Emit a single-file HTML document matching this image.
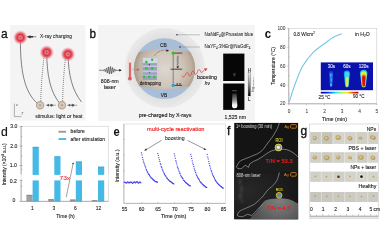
<!DOCTYPE html>
<html><head><meta charset="utf-8">
<style>
html,body{margin:0;padding:0;background:#fff;width:380px;height:245px;overflow:hidden}
svg{display:block;font-family:"Liberation Sans",sans-serif;filter:blur(0.45px)}
text.t{transform-box:fill-box;transform-origin:50% 81%;transform:scaleY(1.15)}
</style></head><body>
<svg width="380" height="245" viewBox="0 0 380 245">
<defs>
<radialGradient id="glow" cx="50%" cy="50%" r="50%">
<stop offset="0" stop-color="#eab4b6"/>
<stop offset="0.2" stop-color="#e67880"/>
<stop offset="0.42" stop-color="#e0303e"/>
<stop offset="0.62" stop-color="#e65060" stop-opacity="0.8"/>
<stop offset="0.84" stop-color="#f08c96" stop-opacity="0.33"/>
<stop offset="1" stop-color="#f8c0c8" stop-opacity="0"/>
</radialGradient>
<radialGradient id="core" cx="50%" cy="50%" r="50%">
<stop offset="0" stop-color="#d8c8b8"/>
<stop offset="1" stop-color="#b8a590"/>
</radialGradient>
<radialGradient id="brown" gradientUnits="userSpaceOnUse" cx="165" cy="69" r="31">
<stop offset="0" stop-color="#ddd7d0"/>
<stop offset="0.55" stop-color="#d0c6bb"/>
<stop offset="0.85" stop-color="#bfb0a0"/>
<stop offset="1" stop-color="#aa9886"/>
</radialGradient>
</defs>

<!-- ============ Panel a ============ -->
<text transform="translate(1.0,38.3) scale(0.92,1.04)" font-size="13" fill="#111" stroke="#111" stroke-width="0.25">a</text>
<rect x="10" y="25" width="75.5" height="95.5" fill="#f4f4f4"/>
<g fill="none" stroke="#5a5a5a" stroke-width="0.75">
<path d="M20.4,37.5 C20.2,70 24,92 37.7,103.6"/>
<path d="M46.7,52.4 C47,75 50,92 60,103.6"/>
<path d="M68,54 C68.5,75 72,90 81.5,102"/>
</g>
<g fill="none" stroke="#555" stroke-width="0.8" stroke-dasharray="0.9,1.1">
<path d="M44.3,54.3 C42.5,70 41,85 40.8,101.5"/>
<path d="M65.7,56.4 C64,70 63,85 62.6,101.5"/>
</g>
<circle cx="20.4" cy="37.5" r="7.6" fill="url(#glow)"/>
<circle cx="20.4" cy="37.5" r="0.8" fill="#7a5050"/>
<circle cx="46.7" cy="52.4" r="7.6" fill="url(#glow)"/>
<circle cx="46.7" cy="52.4" r="0.8" fill="#7a5050"/>
<circle cx="67.9" cy="54.3" r="7.6" fill="url(#glow)"/>
<circle cx="67.9" cy="54.3" r="0.8" fill="#7a5050"/>
<path d="M26.8,36.8 L36.3,36.8" stroke="#333" stroke-width="0.6"/>
<path d="M27,36.8 L30.5,35.2 L30.5,38.4 Z M30.5,36 H33 V37.6 H30.5 Z" fill="#333"/>
<text class="t" x="40" y="38.4" font-size="4.9" fill="#1a1a1a" stroke="#1a1a1a" stroke-width="0.06" textLength="32" lengthAdjust="spacingAndGlyphs">X-ray charging</text>
<circle cx="40.1" cy="105.2" r="3.6" fill="#d8ccc0" stroke="#b8a690" stroke-width="1.2"/>
<circle cx="40.1" cy="105.2" r="1.3" fill="#b8a898"/>
<circle cx="62" cy="105.2" r="3.6" fill="#d8ccc0" stroke="#b8a690" stroke-width="1.2"/>
<circle cx="62" cy="105.2" r="1.3" fill="#b8a898"/>
<path d="M46,105.2 H56 M67.3,105.2 H77.3" stroke="#777" stroke-width="0.6"/>
<path d="M46.3,105.2 L49,103.8 L49,106.6 Z M49.5,105.2 L51.5,103.7 L53.5,105.2 L51.5,106.7 Z M67.6,105.2 L70.3,103.8 L70.3,106.6 Z M70.8,105.2 L72.8,103.7 L74.8,105.2 L72.8,106.7 Z" fill="#555"/>
<text class="t" x="35.2" y="117.7" font-size="4.9" fill="#1a1a1a" stroke="#1a1a1a" stroke-width="0.08" textLength="47.3" lengthAdjust="spacingAndGlyphs">stimulus: light or heat</text>
<path d="M14.4,103.6 V116.6 H21.5" fill="none" stroke="#777" stroke-width="0.55"/>
<text class="t" x="16" y="106" font-size="3.6" font-style="italic" fill="#444">z</text>
<text class="t" x="21" y="115" font-size="3.6" font-style="italic" fill="#444">T</text>

<!-- ============ Panel b ============ -->
<text transform="translate(89.4,38.1) scale(0.9,1.02)" font-size="13" fill="#111" stroke="#111" stroke-width="0.35">b</text>
<rect x="98" y="25" width="157" height="96" fill="#f4f4f4"/>
<circle cx="165" cy="68" r="40" fill="url(#ring)"/>
<defs><radialGradient id="ring" gradientUnits="userSpaceOnUse" cx="165" cy="68" r="40"><stop offset="0.7" stop-color="#dedede"/><stop offset="1" stop-color="#eaeaea"/></radialGradient></defs>
<clipPath id="inner"><ellipse cx="164.5" cy="68.6" rx="30.6" ry="30.4"/></clipPath>
<ellipse cx="164.5" cy="68.6" rx="30.6" ry="30.4" fill="#a8bdd8"/>
<g clip-path="url(#inner)">
<ellipse cx="165" cy="69.2" rx="48" ry="20.2" fill="url(#brown)"/>
</g>
<text class="t" x="163.3" y="46.8" font-size="4.8" fill="#222" stroke="#222" stroke-width="0.1" text-anchor="middle">CB</text>
<text class="t" x="164" y="96.5" font-size="4.8" fill="#222" stroke="#222" stroke-width="0.1" text-anchor="middle">VB</text>
<!-- trap box -->
<rect x="142.7" y="57.6" width="14.3" height="22.4" fill="#9aa2bc"/>
<rect x="142.7" y="57.6" width="14.3" height="5.5" fill="#d4d8e4"/>
<rect x="142.7" y="65.5" width="14.3" height="1.6" fill="#c4c8d8"/>
<rect x="142.7" y="70.5" width="14.3" height="1.8" fill="#c4c8d8"/>
<rect x="142.7" y="74.6" width="14.3" height="1.2" fill="#b8bcd0"/>
<g fill="#2fc03c">
<circle cx="146.3" cy="62.1" r="1.25"/>
<circle cx="152.2" cy="59.7" r="1.25"/>
<circle cx="146.3" cy="68.3" r="1.25"/>
<circle cx="152.2" cy="68.3" r="1.25"/>
<circle cx="144" cy="77" r="1.25"/>
<circle cx="149.3" cy="77" r="1.25"/>
<circle cx="154.4" cy="77" r="1.25"/>
</g>
<circle cx="149.3" cy="64.7" r="0.6" fill="#222"/>
<circle cx="149.3" cy="72.5" r="0.5" fill="#444"/>
<text class="t" x="150.4" y="85.1" font-size="4.5" fill="#222" stroke="#222" stroke-width="0.1" text-anchor="middle" textLength="21.4" lengthAdjust="spacingAndGlyphs">detrapping</text>
<path d="M154.4,55.8 C157,51.5 162,49.5 167.2,50.4" fill="none" stroke="#222" stroke-width="0.55" stroke-dasharray="0.7,0.7"/>
<path d="M169.2,50.8 L166.5,49.2 L166.3,51.8 Z" fill="#222"/>
<!-- levels -->
<path d="M173.2,53.1 H182.2 M170.5,69.2 H182.2 M173.2,85.4 H182.2" stroke="#1a1a1a" stroke-width="0.75"/>
<path d="M173.2,53 V85.4" stroke="#333" stroke-width="0.5"/>
<path d="M177.7,55.5 l0.9,0.9 l-1.8,0.9 l1.8,0.9 l-1.8,0.9 l1.8,0.9 l-1.8,0.9 l1.8,0.9 l-1.8,0.9 l1.8,0.9 l-1.8,0.9 l1.8,0.9 l-0.9,0.5 V67" fill="none" stroke="#333" stroke-width="0.4"/>
<path d="M177.7,68.6 L176.3,66.4 L179.1,66.4 Z M177.2,85.2 L176.2,83.6 L178.2,83.6 Z M180,85.2 L179,83.6 L181,83.6 Z" fill="#222"/>
<circle cx="173.2" cy="53.1" r="1.6" fill="#2fc03c"/>
<circle cx="173.2" cy="85.4" r="1.6" fill="#2a9fd8"/>
<!-- labels lines -->
<circle cx="177" cy="34.8" r="0.8" fill="#222"/>
<path d="M177,34.8 H200" stroke="#888" stroke-width="0.5"/>
<circle cx="180" cy="47" r="0.8" fill="#222"/>
<path d="M180,47 H200" stroke="#888" stroke-width="0.5"/>
<text class="t" x="204.6" y="36.2" font-size="4.6" fill="#222" stroke="#222" stroke-width="0.04">NaNdF<tspan font-size="3" dy="1">4</tspan><tspan dy="-1">@Prussian blue</tspan></text>
<text class="t" x="204.6" y="48.4" font-size="4.5" fill="#222" stroke="#222" stroke-width="0.04" textLength="45.8" lengthAdjust="spacingAndGlyphs">NaYF<tspan font-size="3" dy="1">4</tspan><tspan dy="-1">:3%Er@NaGdF</tspan><tspan font-size="3" dy="1">4</tspan></text>
<!-- thermometer -->
<rect x="128.5" y="57.7" width="3" height="21" rx="1.5" fill="#f4e8e8" stroke="#dcc0c0" stroke-width="0.4"/>
<rect x="129.1" y="62.6" width="1.8" height="15.6" fill="#e2585c"/>
<circle cx="129.9" cy="78.6" r="1.9" fill="#e2585c"/>
<path d="M132.4,69.6 H137" stroke="#e04c50" stroke-width="0.7" stroke-dasharray="0.8,0.9"/>
<path d="M139.8,69.6 L137.2,68.3 L137.2,70.9 Z" fill="#e04c50"/>
<!-- laser wave -->
<path d="M99.00,70.31 L99.10,70.31 L99.20,70.31 L99.30,70.31 L99.40,70.31 L99.50,70.30 L99.60,70.29 L99.70,70.29 L99.80,70.28 L99.90,70.27 L100.00,70.27 L100.10,70.26 L100.20,70.26 L100.30,70.27 L100.40,70.28 L100.50,70.29 L100.60,70.31 L100.70,70.33 L100.80,70.35 L100.90,70.37 L101.00,70.38 L101.10,70.39 L101.20,70.39 L101.30,70.38 L101.40,70.36 L101.50,70.34 L101.60,70.30 L101.70,70.26 L101.80,70.21 L101.90,70.17 L102.00,70.13 L102.10,70.10 L102.20,70.09 L102.30,70.10 L102.40,70.13 L102.50,70.18 L102.60,70.26 L102.70,70.35 L102.80,70.44 L102.90,70.54 L103.00,70.62 L103.10,70.69 L103.20,70.73 L103.30,70.72 L103.40,70.68 L103.50,70.59 L103.60,70.46 L103.70,70.30 L103.80,70.12 L103.90,69.93 L104.00,69.76 L104.10,69.62 L104.20,69.53 L104.30,69.50 L104.40,69.55 L104.50,69.68 L104.60,69.88 L104.70,70.15 L104.80,70.46 L104.90,70.78 L105.00,71.09 L105.10,71.36 L105.20,71.55 L105.30,71.63 L105.40,71.60 L105.50,71.44 L105.60,71.16 L105.70,70.77 L105.80,70.30 L105.90,69.79 L106.00,69.30 L106.10,68.85 L106.20,68.51 L106.30,68.32 L106.40,68.29 L106.50,68.46 L106.60,68.80 L106.70,69.31 L106.80,69.95 L106.90,70.66 L107.00,71.38 L107.10,72.04 L107.20,72.57 L107.30,72.93 L107.40,73.05 L107.50,72.93 L107.60,72.56 L107.70,71.97 L107.80,71.19 L107.90,70.30 L108.00,69.37 L108.10,68.50 L108.20,67.75 L108.30,67.21 L108.40,66.94 L108.50,66.97 L108.60,67.30 L108.70,67.91 L108.80,68.76 L108.90,69.77 L109.00,70.84 L109.10,71.89 L109.20,72.81 L109.30,73.52 L109.40,73.94 L109.50,74.04 L109.60,73.81 L109.70,73.26 L109.80,72.44 L109.90,71.42 L110.00,70.30 L110.10,69.18 L110.20,68.16 L110.30,67.34 L110.40,66.79 L110.50,66.56 L110.60,66.66 L110.70,67.08 L110.80,67.79 L110.90,68.71 L111.00,69.76 L111.10,70.83 L111.20,71.84 L111.30,72.69 L111.40,73.30 L111.50,73.63 L111.60,73.66 L111.70,73.39 L111.80,72.85 L111.90,72.10 L112.00,71.23 L112.10,70.30 L112.20,69.41 L112.30,68.63 L112.40,68.04 L112.50,67.67 L112.60,67.55 L112.70,67.67 L112.80,68.03 L112.90,68.56 L113.00,69.22 L113.10,69.94 L113.20,70.65 L113.30,71.29 L113.40,71.80 L113.50,72.14 L113.60,72.31 L113.70,72.28 L113.80,72.09 L113.90,71.75 L114.00,71.30 L114.10,70.81 L114.20,70.30 L114.30,69.83 L114.40,69.44 L114.50,69.16 L114.60,69.00 L114.70,68.97 L114.80,69.05 L114.90,69.24 L115.00,69.51 L115.10,69.82 L115.20,70.14 L115.30,70.45 L115.40,70.72 L115.50,70.92 L115.60,71.05 L115.70,71.10 L115.80,71.07 L115.90,70.98 L116.00,70.84 L116.10,70.67 L116.20,70.48 L116.30,70.30 L116.40,70.14 L116.50,70.01 L116.60,69.92 L116.70,69.88 L116.80,69.87 L116.90,69.91 L117.00,69.98 L117.10,70.06 L117.20,70.16 L117.30,70.25 L117.40,70.34 L117.50,70.42 L117.60,70.47 L117.70,70.50 L117.80,70.51 L117.90,70.50 L118.00,70.47 L118.10,70.43 L118.20,70.39 L118.30,70.34 L118.40,70.30 L118.50,70.26 L118.60,70.24 L118.70,70.22 L118.80,70.21 L118.90,70.21 L119.00,70.22 L119.10,70.23 L119.20,70.25 L119.30,70.27 L119.40,70.29 L119.50,70.31 L119.60,70.32 L119.70,70.33 L119.80,70.34 L119.90,70.34 L120.00,70.33 L120.10,70.33 L120.20,70.32 L120.30,70.31 L120.40,70.31 L120.50,70.30 L120.60,70.29 L120.70,70.29 L120.80,70.29 L120.90,70.29 L121.00,70.29" fill="none" stroke="#1a1a1a" stroke-width="0.6"/>
<path d="M121.8,70.3 L119.2,69 L119.2,71.6 Z" fill="#1a1a1a"/>
<rect x="99.5" y="76.5" width="20.5" height="13.5" fill="#f8f8f8" filter="url(#tb)"/>
<text class="t" x="109.8" y="82.9" font-size="5.3" fill="#1a1a1a" stroke="#1a1a1a" stroke-width="0.1" text-anchor="middle" textLength="18" lengthAdjust="spacingAndGlyphs">808-nm</text>
<text class="t" x="109.8" y="88.8" font-size="5.3" fill="#1a1a1a" stroke="#1a1a1a" stroke-width="0.1" text-anchor="middle" textLength="12.2" lengthAdjust="spacingAndGlyphs">laser</text>
<!-- red wavy -->
<path d="M182,75.5 C183,78 184.5,77 185.5,74.5 C186.5,72 188,72 188.5,74.5 C189,77 191,76 191.5,73 C192,70.5 194,70.5 194.5,73 C195,75.5 197,74.5 197.5,71.5 C198,69 200,69 200.5,71.5 C201,73.5 203,72 204.5,69.5" fill="none" stroke="#e0393e" stroke-width="0.75"/>
<path d="M207.5,68.2 L203.8,68.6 L205.8,71.3 Z" fill="#e0393e"/>
<text class="t" x="207" y="79.3" font-size="5.1" fill="#1a1a1a" stroke="#1a1a1a" stroke-width="0.1" text-anchor="middle" textLength="20" lengthAdjust="spacingAndGlyphs">boosting</text>
<text class="t" x="207.5" y="85.3" font-size="5" font-style="italic" fill="#1a1a1a" stroke="#1a1a1a" stroke-width="0.08" text-anchor="middle">hν</text>
<text class="t" x="165.1" y="117.4" font-size="4.9" fill="#1a1a1a" stroke="#1a1a1a" stroke-width="0.12" text-anchor="middle" textLength="52.6" lengthAdjust="spacingAndGlyphs">pre-charged by X-rays</text>
<!-- dark images -->
<rect x="223.2" y="53.6" width="21.2" height="27.4" fill="#060606"/>
<rect x="223.2" y="83.5" width="21.2" height="26.4" fill="#060606"/>
<defs>
<filter id="tb" x="-50%" y="-50%" width="200%" height="200%"><feGaussianBlur stdDeviation="0.6"/></filter>
<linearGradient id="tube" x1="0" y1="0" x2="0" y2="1"><stop offset="0" stop-color="#303030"/><stop offset="0.45" stop-color="#8a8a8a"/><stop offset="0.75" stop-color="#f0f0f0"/><stop offset="1" stop-color="#ffffff"/></linearGradient>
<linearGradient id="cbar" x1="0" y1="0" x2="0" y2="1"><stop offset="0" stop-color="#f4f4f4"/><stop offset="0.5" stop-color="#909090"/><stop offset="1" stop-color="#000"/></linearGradient>
</defs>
<ellipse cx="234.4" cy="74.6" rx="1.2" ry="1.8" fill="#3a3a3a" filter="url(#tb)"/>
<rect x="232.2" y="90.4" width="4.6" height="0.8" fill="#6a6a6a" filter="url(#tb)"/>
<path d="M232.4,93.5 L236.6,93.5 L237.4,106 Q237.4,108.3 234.9,108.3 Q232,108.3 232,106 Z" fill="url(#tube)" filter="url(#tb)"/>
<rect x="248.1" y="72.5" width="2.3" height="23.5" fill="url(#cbar)" stroke="#333" stroke-width="0.3"/>
<text class="t" x="249.3" y="72" font-size="4.4" fill="#1a1a1a" stroke="#1a1a1a" stroke-width="0.1" text-anchor="middle">H</text>
<text class="t" x="249.3" y="100.8" font-size="4.4" fill="#1a1a1a" stroke="#1a1a1a" stroke-width="0.1" text-anchor="middle">L</text>
<text transform="translate(253.8,84.5) rotate(-90)" font-size="3.6" fill="#333" text-anchor="middle">log<tspan font-size="2.2" dy="0.6">(Intensity)</tspan></text>
<text class="t" x="235.3" y="119" font-size="5" fill="#1a1a1a" stroke="#1a1a1a" stroke-width="0.1" text-anchor="middle" textLength="21.5" lengthAdjust="spacingAndGlyphs">1,525 nm</text>

<!-- ============ Panel c ============ -->
<text transform="translate(264.8,38.4) scale(0.88,1)" font-size="13" font-weight="bold" fill="#111">c</text>
<rect x="288.8" y="28.6" width="88" height="75.1" fill="none" stroke="#c0c0c0" stroke-width="0.5"/>
<path d="M288.8,28.4 V103.9 H376.8" fill="none" stroke="#909090" stroke-width="0.6"/>
<g font-size="4.8" fill="#333" stroke="#333" stroke-width="0.03" text-anchor="end">
<text class="t" x="285.4" y="30.1">100</text>
<text class="t" x="285.4" y="49.3">80</text>
<text class="t" x="285.4" y="68">60</text>
<text class="t" x="285.4" y="86.7">40</text>
<text class="t" x="285.4" y="105.4">20</text>
</g>
<path d="M287.3,28.6 h1.5 M287.3,47.5 h1.5 M287.3,66.2 h1.5 M287.3,85 h1.5 M287.3,103.7 h1.5 M288.8,38 h1 M288.8,56.9 h1 M288.8,75.6 h1 M288.8,94.3 h1" stroke="#909090" stroke-width="0.5"/>
<g font-size="4.8" fill="#333" stroke="#333" stroke-width="0.03" text-anchor="middle">
<text class="t" x="289.2" y="112.7">0</text>
<text class="t" x="306.8" y="112.7">1</text>
<text class="t" x="324.6" y="112.7">2</text>
<text class="t" x="342.2" y="112.7">3</text>
<text class="t" x="359.6" y="112.7">4</text>
<text class="t" x="376.8" y="112.7">5</text>
</g>
<path d="M288.8,103.9 v1.4 M306.6,103.9 v1.4 M324.2,103.9 v1.4 M341.8,103.9 v1.4 M359.4,103.9 v1.4 M376.8,103.9 v1.4" stroke="#909090" stroke-width="0.5"/>
<text class="t" x="334.5" y="120.7" font-size="4.9" fill="#222" stroke="#222" stroke-width="0.1" text-anchor="middle" textLength="25" lengthAdjust="spacingAndGlyphs">Time (min)</text>
<text transform="translate(274.8,66) rotate(-90)" font-size="4.9" fill="#222" stroke="#222" stroke-width="0.1" text-anchor="middle" textLength="38" lengthAdjust="spacingAndGlyphs">Temperature (°C)</text>
<text class="t" x="293.4" y="35.9" font-size="5.1" fill="#222" stroke="#222" stroke-width="0.1" textLength="21.5" lengthAdjust="spacingAndGlyphs">0.8 W/cm<tspan font-size="3.2" dy="-1.6">2</tspan></text>
<text class="t" x="354.9" y="35.9" font-size="5.1" fill="#222" stroke="#222" stroke-width="0.1">in H<tspan font-size="3.2" dy="1.2">2</tspan><tspan dy="-1.2">O</tspan></text>
<path d="M289.2,102.2 C290.1,99.4 292.4,91.5 294.6,85.5 C296.8,79.5 299.4,71.9 302.6,66.3 C305.8,60.7 310.0,55.7 313.7,51.9 C317.4,48.1 321.7,45.7 324.9,43.3 C328.1,40.9 330.1,39.2 332.9,37.6 C335.7,36.0 340.3,34.4 341.8,33.7" fill="none" stroke="#74c6ea" stroke-width="1.1"/>
<!-- heatmap -->
<defs><filter id="hb" x="-50%" y="-50%" width="200%" height="200%"><feGaussianBlur stdDeviation="0.65"/></filter></defs>
<rect x="320.8" y="62.4" width="52.2" height="27.8" fill="#0a12ac"/>
<g font-size="4.6" fill="#f4f4ff" stroke="#f4f4ff" stroke-width="0.08" text-anchor="middle">
<text class="t" x="331.4" y="67.7">30s</text>
<text class="t" x="346.9" y="67.7">60s</text>
<text class="t" x="363.7" y="67.7">120s</text>
</g>
<g filter="url(#hb)">
<path d="M328.80,73.20 Q328.80,71.00 331.00,71.00 Q333.20,71.00 333.20,73.20 L332.30,85.90 Q332.30,87.20 331.00,87.20 Q329.70,87.20 329.70,85.90 Z" fill="#1a48e0" opacity="0.90"/><path d="M329.90,74.30 Q329.90,73.00 331.20,73.00 Q332.50,73.00 332.50,74.30 L332.00,85.70 Q332.00,86.50 331.20,86.50 Q330.40,86.50 330.40,85.70 Z" fill="#2e8af4" opacity="0.90"/><circle cx="330.6" cy="75" r="0.8" fill="#50c0f8"/><circle cx="331.6" cy="80" r="0.7" fill="#50c0f8"/><circle cx="331" cy="85" r="0.9" fill="#48d0f0"/><path d="M343.80,73.50 Q343.80,70.40 346.90,70.40 Q350.00,70.40 350.00,73.50 L348.70,85.60 Q348.70,87.40 346.90,87.40 Q345.10,87.40 345.10,85.60 Z" fill="#18a0f8" opacity="1.00"/><path d="M344.80,74.00 Q344.80,71.80 347.00,71.80 Q349.20,71.80 349.20,74.00 L348.40,85.60 Q348.40,87.00 347.00,87.00 Q345.60,87.00 345.60,85.60 Z" fill="#40d8f0" opacity="1.00"/><path d="M345.50,78.60 Q345.50,77.00 347.10,77.00 Q348.70,77.00 348.70,78.60 L348.20,85.70 Q348.20,86.80 347.10,86.80 Q346.00,86.80 346.00,85.70 Z" fill="#c8ee50" opacity="1.00"/><path d="M346.00,83.10 Q346.00,82.00 347.10,82.00 Q348.20,82.00 348.20,83.10 L347.90,85.80 Q347.90,86.60 347.10,86.60 Q346.30,86.60 346.30,85.80 Z" fill="#f0e838" opacity="1.00"/><path d="M360.00,73.50 Q360.00,69.80 363.70,69.80 Q367.40,69.80 367.40,73.50 L365.90,85.20 Q365.90,87.40 363.70,87.40 Q361.50,87.40 361.50,85.20 Z" fill="#20c0f8" opacity="1.00"/><path d="M360.70,74.20 Q360.70,71.20 363.70,71.20 Q366.70,71.20 366.70,74.20 L365.50,85.20 Q365.50,87.00 363.70,87.00 Q361.90,87.00 361.90,85.20 Z" fill="#e8e830" opacity="1.00"/><path d="M361.70,76.60 Q361.70,74.50 363.80,74.50 Q365.90,74.50 365.90,76.60 L365.20,85.20 Q365.20,86.60 363.80,86.60 Q362.40,86.60 362.40,85.20 Z" fill="#f07010" opacity="1.00"/><path d="M362.20,77.60 Q362.20,76.00 363.80,76.00 Q365.40,76.00 365.40,77.60 L364.90,85.20 Q364.90,86.30 363.80,86.30 Q362.70,86.30 362.70,85.20 Z" fill="#d81008" opacity="1.00"/>
</g>
<defs><linearGradient id="jet" x1="0" x2="1"><stop offset="0" stop-color="#00007a"/><stop offset="0.15" stop-color="#0010ff"/><stop offset="0.38" stop-color="#00e0ff"/><stop offset="0.55" stop-color="#a0ff60"/><stop offset="0.72" stop-color="#ffe000"/><stop offset="0.88" stop-color="#ff2000"/><stop offset="1" stop-color="#a00000"/></linearGradient></defs>
<rect x="320.8" y="91.8" width="37.6" height="1.7" fill="url(#jet)"/>
<text class="t" x="318.6" y="98.5" font-size="4.7" fill="#222" stroke="#222" stroke-width="0.1">25 °C</text>
<text class="t" x="353" y="98.3" font-size="4.6" fill="#222" stroke="#222" stroke-width="0.1">90 °C</text>

<!-- ============ Panel d ============ -->
<text transform="translate(1.0,135.6) scale(0.94,1)" font-size="13" fill="#111" stroke="#111" stroke-width="0.2">d</text>
<rect x="21.2" y="126.2" width="87.4" height="75.3" fill="none" stroke="#c4c4c4" stroke-width="0.5"/>
<g font-size="5.1" fill="#222" stroke="#222" stroke-width="0.1" text-anchor="end">
<text class="t" x="17.4" y="128.4">3.0</text>
<text class="t" x="17.4" y="147.8">2.0</text>
<text class="t" x="16.8" y="167.4">1.0</text>
<text class="t" x="16.8" y="182.8">0.2</text>
<text class="t" x="15.3" y="202.1">0</text>
</g>
<rect x="26.4" y="195" width="6.2" height="6.5" fill="#a0a0a0"/>
<rect x="48.2" y="199.4" width="5.8" height="2.1" fill="#9a9a9a"/>
<rect x="69.9" y="199.7" width="5.8" height="1.8" fill="#9a9a9a"/>
<rect x="91.7" y="200.4" width="5.8" height="1.1" fill="#9a9a9a"/>
<path d="M26.6,195.2 h5.8 M48.4,199.5 h5.4 M70.1,199.8 h5.4 M91.9,200.5 h5.4" stroke="#666" stroke-width="0.5"/>
<g fill="#45bae6">
<rect x="32.6" y="147" width="6.2" height="54.5"/>
<rect x="54.3" y="156.5" width="6.2" height="45"/>
<rect x="75.8" y="161.6" width="6.2" height="39.9"/>
<rect x="98" y="166.8" width="6.2" height="34.7"/>
</g>
<rect x="21.6" y="174.9" width="86.8" height="5.5" fill="#fff"/>
<path d="M21,126.2 V174.2 M21,180.3 V201.3 H108.6" fill="none" stroke="#8a8a8a" stroke-width="0.6"/>
<path d="M19.5,126.6 h3 M19.5,146 h3 M19.5,165.6 h3 M19.5,180.3 h3 M19.5,201.3 h1.5 M21,136.3 h1.2 M21,155.8 h1.2 M21,169.4 h1.2 M21,186.3 h1.2" stroke="#777" stroke-width="0.5"/>
<path d="M32.6,147.2 h6.2 M54.3,156.7 h6.2 M75.8,161.8 h6.2 M98,167 h6.2" stroke="#3a9cc8" stroke-width="0.6"/>
<path d="M66.2,197.4 L73.1,163.5" stroke="#555" stroke-width="0.55"/>
<circle cx="73.1" cy="163.5" r="0.8" fill="#222"/>
<text class="t" x="59.5" y="180.3" font-size="5" fill="#ec2c30" stroke="#ec2c30" stroke-width="0.08" textLength="10.6" lengthAdjust="spacingAndGlyphs">73x</text>
<rect x="58.5" y="130.8" width="7.6" height="1.9" fill="#9a9a9a"/>
<rect x="58.5" y="138.1" width="7.6" height="1.9" fill="#45bae6"/>
<text class="t" x="70.6" y="133.4" font-size="4.9" fill="#1a1a1a" stroke="#1a1a1a" stroke-width="0.1" textLength="14.2" lengthAdjust="spacingAndGlyphs">before</text>
<text class="t" x="70.6" y="140.7" font-size="4.9" fill="#1a1a1a" stroke="#1a1a1a" stroke-width="0.1" textLength="34.4" lengthAdjust="spacingAndGlyphs">after stimulation</text>
<g font-size="4.9" fill="#222" stroke="#222" stroke-width="0.1" text-anchor="middle">
<text class="t" x="32.4" y="210">1</text>
<text class="t" x="53.8" y="210">3</text>
<text class="t" x="75.4" y="210">6</text>
<text class="t" x="98.6" y="210">12</text>
</g>
<text class="t" x="65.5" y="217.6" font-size="4.9" fill="#222" stroke="#222" stroke-width="0.1" text-anchor="middle" textLength="18.5" lengthAdjust="spacingAndGlyphs">Time (h)</text>
<text transform="translate(5.8,164.3) rotate(-90)" font-size="4.9" fill="#1a1a1a" stroke="#1a1a1a" stroke-width="0.1" text-anchor="middle" textLength="42" lengthAdjust="spacingAndGlyphs">Intensity (×10<tspan font-size="3.2" dy="-1.4">4</tspan><tspan dy="1.4"> a.u.)</tspan></text>

<!-- ============ Panel e ============ -->
<text transform="translate(113.4,135.7) scale(0.86,1)" font-size="13" font-weight="bold" fill="#111">e</text>
<rect x="123.9" y="124" width="101.7" height="79.3" fill="none" stroke="#c8c8c8" stroke-width="0.5"/>
<path d="M123.9,124 V203.3 H225.6" fill="none" stroke="#999" stroke-width="0.6"/>
<path d="M123.9,139.4 h1.2 M123.9,155.1 h1.2 M123.9,170.9 h1.2 M123.9,186.5 h1.2" stroke="#999" stroke-width="0.5"/>
<path d="M141.6,203.3 v-1.2 M158,203.3 v-1.2 M174.6,203.3 v-1.2 M191,203.3 v-1.2 M207.4,203.3 v-1.2" stroke="#999" stroke-width="0.5"/>
<text transform="translate(118.6,166) rotate(-90)" font-size="4.9" fill="#222" stroke="#222" stroke-width="0.1" text-anchor="middle" textLength="33" lengthAdjust="spacingAndGlyphs">Intensity (a.u.)</text>
<text class="t" x="147" y="131" font-size="5.2" fill="#f01c1c" stroke="#f01c1c" stroke-width="0.14" textLength="57.5" lengthAdjust="spacingAndGlyphs">multi-cycle reactivation</text>
<text class="t" x="164.9" y="139.5" font-size="5.2" fill="#1a1a1a" stroke="#1a1a1a" stroke-width="0.05" textLength="19.7" lengthAdjust="spacingAndGlyphs">boosting</text>
<path d="M161.5,140.4 L145.5,150 M187.5,140.4 L205,149.2" stroke="#444" stroke-width="0.55"/>
<path d="M144,150.7 L146.1,148.3 L147,150.2 Z M206.4,149.9 L203.5,149.7 L204.5,147.9 Z" fill="#333"/>
<g font-size="5.1" fill="#222" stroke="#222" stroke-width="0.1" text-anchor="middle">
<text class="t" x="124.5" y="210.8">55</text>
<text class="t" x="141.6" y="210.8">60</text>
<text class="t" x="158" y="210.8">65</text>
<text class="t" x="174.8" y="210.8">70</text>
<text class="t" x="191" y="210.8">75</text>
<text class="t" x="207.4" y="210.8">80</text>
<text class="t" x="223.6" y="210.8">85</text>
</g>
<text class="t" x="173.7" y="218.3" font-size="5" fill="#222" stroke="#222" stroke-width="0.1" text-anchor="middle" textLength="25.4" lengthAdjust="spacingAndGlyphs">Time (min)</text>
<g fill="#3838e6"><rect x="123.8" y="181.8" width="1.05" height="1.05"/><rect x="124.3" y="181.6" width="1.05" height="1.05"/><rect x="124.8" y="182.0" width="1.05" height="1.05"/><rect x="125.3" y="182.1" width="1.05" height="1.05"/><rect x="125.8" y="182.5" width="1.05" height="1.05"/><rect x="126.3" y="182.4" width="1.05" height="1.05"/><rect x="126.8" y="181.6" width="1.05" height="1.05"/><rect x="127.3" y="181.5" width="1.05" height="1.05"/><rect x="127.8" y="181.8" width="1.05" height="1.05"/><rect x="128.3" y="182.4" width="1.05" height="1.05"/><rect x="128.8" y="182.1" width="1.05" height="1.05"/><rect x="129.3" y="182.2" width="1.05" height="1.05"/><rect x="129.8" y="181.5" width="1.05" height="1.05"/><rect x="130.3" y="181.8" width="1.05" height="1.05"/><rect x="130.8" y="181.8" width="1.05" height="1.05"/><rect x="131.3" y="181.7" width="1.05" height="1.05"/><rect x="131.8" y="182.9" width="1.05" height="1.05"/><rect x="132.3" y="182.7" width="1.05" height="1.05"/><rect x="132.8" y="182.0" width="1.05" height="1.05"/><rect x="133.3" y="181.6" width="1.05" height="1.05"/><rect x="133.8" y="181.4" width="1.05" height="1.05"/><rect x="134.3" y="181.7" width="1.05" height="1.05"/><rect x="134.8" y="182.5" width="1.05" height="1.05"/><rect x="135.3" y="181.9" width="1.05" height="1.05"/><rect x="135.8" y="181.6" width="1.05" height="1.05"/><rect x="136.3" y="181.3" width="1.05" height="1.05"/><rect x="136.8" y="181.3" width="1.05" height="1.05"/><rect x="137.3" y="182.1" width="1.05" height="1.05"/><rect x="137.8" y="182.4" width="1.05" height="1.05"/><rect x="138.3" y="182.6" width="1.05" height="1.05"/><rect x="138.8" y="181.8" width="1.05" height="1.05"/><rect x="139.3" y="181.6" width="1.05" height="1.05"/><rect x="139.8" y="181.7" width="1.05" height="1.05"/><rect x="140.3" y="182.3" width="1.05" height="1.05"/><rect x="140.9" y="152.3" width="1.05" height="1.05"/><rect x="141.4" y="154.4" width="1.05" height="1.05"/><rect x="141.9" y="156.9" width="1.05" height="1.05"/><rect x="142.4" y="158.8" width="1.05" height="1.05"/><rect x="142.8" y="160.5" width="1.05" height="1.05"/><rect x="143.3" y="162.1" width="1.05" height="1.05"/><rect x="143.8" y="163.4" width="1.05" height="1.05"/><rect x="144.3" y="164.8" width="1.05" height="1.05"/><rect x="144.8" y="166.2" width="1.05" height="1.05"/><rect x="145.3" y="167.4" width="1.05" height="1.05"/><rect x="145.7" y="169.0" width="1.05" height="1.05"/><rect x="146.2" y="169.9" width="1.05" height="1.05"/><rect x="146.7" y="171.2" width="1.05" height="1.05"/><rect x="147.2" y="171.9" width="1.05" height="1.05"/><rect x="147.7" y="173.1" width="1.05" height="1.05"/><rect x="148.2" y="173.9" width="1.05" height="1.05"/><rect x="148.7" y="174.1" width="1.05" height="1.05"/><rect x="149.1" y="175.0" width="1.05" height="1.05"/><rect x="149.6" y="176.1" width="1.05" height="1.05"/><rect x="150.1" y="176.5" width="1.05" height="1.05"/><rect x="150.6" y="177.4" width="1.05" height="1.05"/><rect x="151.1" y="177.6" width="1.05" height="1.05"/><rect x="151.6" y="177.9" width="1.05" height="1.05"/><rect x="152.1" y="178.7" width="1.05" height="1.05"/><rect x="152.5" y="179.3" width="1.05" height="1.05"/><rect x="153.0" y="179.4" width="1.05" height="1.05"/><rect x="153.5" y="179.7" width="1.05" height="1.05"/><rect x="154.0" y="180.2" width="1.05" height="1.05"/><rect x="154.5" y="180.9" width="1.05" height="1.05"/><rect x="155.0" y="181.1" width="1.05" height="1.05"/><rect x="155.4" y="181.0" width="1.05" height="1.05"/><rect x="155.9" y="181.3" width="1.05" height="1.05"/><rect x="156.4" y="181.5" width="1.05" height="1.05"/><rect x="156.9" y="181.7" width="1.05" height="1.05"/><rect x="157.3" y="153.0" width="1.05" height="1.05"/><rect x="157.8" y="154.9" width="1.05" height="1.05"/><rect x="158.3" y="157.2" width="1.05" height="1.05"/><rect x="158.8" y="159.2" width="1.05" height="1.05"/><rect x="159.3" y="160.9" width="1.05" height="1.05"/><rect x="159.8" y="162.9" width="1.05" height="1.05"/><rect x="160.3" y="164.2" width="1.05" height="1.05"/><rect x="160.7" y="166.0" width="1.05" height="1.05"/><rect x="161.2" y="167.1" width="1.05" height="1.05"/><rect x="161.7" y="168.6" width="1.05" height="1.05"/><rect x="162.2" y="169.7" width="1.05" height="1.05"/><rect x="162.7" y="170.8" width="1.05" height="1.05"/><rect x="163.2" y="172.3" width="1.05" height="1.05"/><rect x="163.7" y="173.2" width="1.05" height="1.05"/><rect x="164.1" y="173.8" width="1.05" height="1.05"/><rect x="164.6" y="175.0" width="1.05" height="1.05"/><rect x="165.1" y="175.4" width="1.05" height="1.05"/><rect x="165.6" y="176.3" width="1.05" height="1.05"/><rect x="166.1" y="177.3" width="1.05" height="1.05"/><rect x="166.6" y="177.8" width="1.05" height="1.05"/><rect x="167.0" y="178.1" width="1.05" height="1.05"/><rect x="167.5" y="179.2" width="1.05" height="1.05"/><rect x="168.0" y="179.3" width="1.05" height="1.05"/><rect x="168.5" y="179.8" width="1.05" height="1.05"/><rect x="169.0" y="180.6" width="1.05" height="1.05"/><rect x="169.5" y="180.7" width="1.05" height="1.05"/><rect x="170.0" y="181.1" width="1.05" height="1.05"/><rect x="170.4" y="181.4" width="1.05" height="1.05"/><rect x="170.9" y="181.7" width="1.05" height="1.05"/><rect x="171.4" y="182.3" width="1.05" height="1.05"/><rect x="171.9" y="182.4" width="1.05" height="1.05"/><rect x="172.4" y="182.9" width="1.05" height="1.05"/><rect x="172.9" y="183.1" width="1.05" height="1.05"/><rect x="173.3" y="183.4" width="1.05" height="1.05"/><rect x="173.8" y="153.4" width="1.05" height="1.05"/><rect x="174.3" y="155.5" width="1.05" height="1.05"/><rect x="174.8" y="157.8" width="1.05" height="1.05"/><rect x="175.3" y="160.1" width="1.05" height="1.05"/><rect x="175.7" y="161.6" width="1.05" height="1.05"/><rect x="176.2" y="163.4" width="1.05" height="1.05"/><rect x="176.7" y="165.6" width="1.05" height="1.05"/><rect x="177.2" y="167.1" width="1.05" height="1.05"/><rect x="177.7" y="168.2" width="1.05" height="1.05"/><rect x="178.2" y="169.6" width="1.05" height="1.05"/><rect x="178.6" y="171.2" width="1.05" height="1.05"/><rect x="179.1" y="172.5" width="1.05" height="1.05"/><rect x="179.6" y="173.2" width="1.05" height="1.05"/><rect x="180.1" y="174.7" width="1.05" height="1.05"/><rect x="180.6" y="175.7" width="1.05" height="1.05"/><rect x="181.1" y="176.4" width="1.05" height="1.05"/><rect x="181.6" y="177.1" width="1.05" height="1.05"/><rect x="182.0" y="177.7" width="1.05" height="1.05"/><rect x="182.5" y="178.4" width="1.05" height="1.05"/><rect x="183.0" y="179.7" width="1.05" height="1.05"/><rect x="183.5" y="179.9" width="1.05" height="1.05"/><rect x="184.0" y="180.8" width="1.05" height="1.05"/><rect x="184.5" y="181.1" width="1.05" height="1.05"/><rect x="185.0" y="181.9" width="1.05" height="1.05"/><rect x="185.4" y="182.3" width="1.05" height="1.05"/><rect x="185.9" y="182.6" width="1.05" height="1.05"/><rect x="186.4" y="182.9" width="1.05" height="1.05"/><rect x="186.9" y="183.6" width="1.05" height="1.05"/><rect x="187.4" y="183.6" width="1.05" height="1.05"/><rect x="187.9" y="184.1" width="1.05" height="1.05"/><rect x="188.3" y="184.6" width="1.05" height="1.05"/><rect x="188.8" y="185.1" width="1.05" height="1.05"/><rect x="189.3" y="185.2" width="1.05" height="1.05"/><rect x="189.8" y="185.3" width="1.05" height="1.05"/><rect x="190.2" y="153.8" width="1.05" height="1.05"/><rect x="190.7" y="155.8" width="1.05" height="1.05"/><rect x="191.2" y="158.0" width="1.05" height="1.05"/><rect x="191.7" y="160.3" width="1.05" height="1.05"/><rect x="192.2" y="162.5" width="1.05" height="1.05"/><rect x="192.7" y="164.1" width="1.05" height="1.05"/><rect x="193.2" y="165.9" width="1.05" height="1.05"/><rect x="193.6" y="167.7" width="1.05" height="1.05"/><rect x="194.1" y="169.4" width="1.05" height="1.05"/><rect x="194.6" y="170.5" width="1.05" height="1.05"/><rect x="195.1" y="172.0" width="1.05" height="1.05"/><rect x="195.6" y="173.6" width="1.05" height="1.05"/><rect x="196.1" y="174.8" width="1.05" height="1.05"/><rect x="196.6" y="175.7" width="1.05" height="1.05"/><rect x="197.0" y="176.7" width="1.05" height="1.05"/><rect x="197.5" y="177.6" width="1.05" height="1.05"/><rect x="198.0" y="178.2" width="1.05" height="1.05"/><rect x="198.5" y="178.9" width="1.05" height="1.05"/><rect x="199.0" y="179.7" width="1.05" height="1.05"/><rect x="199.5" y="181.0" width="1.05" height="1.05"/><rect x="199.9" y="181.5" width="1.05" height="1.05"/><rect x="200.4" y="182.3" width="1.05" height="1.05"/><rect x="200.9" y="182.3" width="1.05" height="1.05"/><rect x="201.4" y="183.2" width="1.05" height="1.05"/><rect x="201.9" y="183.6" width="1.05" height="1.05"/><rect x="202.4" y="184.2" width="1.05" height="1.05"/><rect x="202.9" y="184.4" width="1.05" height="1.05"/><rect x="203.3" y="185.3" width="1.05" height="1.05"/><rect x="203.8" y="185.1" width="1.05" height="1.05"/><rect x="204.3" y="185.7" width="1.05" height="1.05"/><rect x="204.8" y="186.2" width="1.05" height="1.05"/><rect x="205.3" y="186.6" width="1.05" height="1.05"/><rect x="205.8" y="186.8" width="1.05" height="1.05"/><rect x="206.2" y="187.0" width="1.05" height="1.05"/><rect x="206.7" y="153.9" width="1.05" height="1.05"/><rect x="207.2" y="156.5" width="1.05" height="1.05"/><rect x="207.7" y="158.5" width="1.05" height="1.05"/><rect x="208.2" y="160.9" width="1.05" height="1.05"/><rect x="208.6" y="163.0" width="1.05" height="1.05"/><rect x="209.1" y="164.9" width="1.05" height="1.05"/><rect x="209.6" y="166.4" width="1.05" height="1.05"/><rect x="210.1" y="168.3" width="1.05" height="1.05"/><rect x="210.6" y="169.9" width="1.05" height="1.05"/><rect x="211.1" y="171.2" width="1.05" height="1.05"/><rect x="211.5" y="172.6" width="1.05" height="1.05"/><rect x="212.0" y="173.7" width="1.05" height="1.05"/><rect x="212.5" y="175.0" width="1.05" height="1.05"/><rect x="213.0" y="176.1" width="1.05" height="1.05"/><rect x="213.5" y="176.8" width="1.05" height="1.05"/><rect x="214.0" y="178.1" width="1.05" height="1.05"/><rect x="214.5" y="179.2" width="1.05" height="1.05"/><rect x="214.9" y="180.0" width="1.05" height="1.05"/><rect x="215.4" y="180.6" width="1.05" height="1.05"/><rect x="215.9" y="181.2" width="1.05" height="1.05"/><rect x="216.4" y="182.1" width="1.05" height="1.05"/><rect x="216.9" y="182.6" width="1.05" height="1.05"/><rect x="217.4" y="183.1" width="1.05" height="1.05"/><rect x="217.9" y="183.9" width="1.05" height="1.05"/><rect x="218.3" y="183.9" width="1.05" height="1.05"/><rect x="218.8" y="184.8" width="1.05" height="1.05"/><rect x="219.3" y="184.8" width="1.05" height="1.05"/><rect x="219.8" y="185.6" width="1.05" height="1.05"/><rect x="220.3" y="185.9" width="1.05" height="1.05"/><rect x="220.8" y="186.1" width="1.05" height="1.05"/><rect x="221.2" y="186.7" width="1.05" height="1.05"/><rect x="221.7" y="186.9" width="1.05" height="1.05"/><rect x="222.2" y="187.3" width="1.05" height="1.05"/><rect x="222.7" y="187.8" width="1.05" height="1.05"/></g>

<!-- ============ Panel f ============ -->
<text transform="translate(227.0,134.6) scale(0.94,1)" font-size="13" fill="#111" stroke="#111" stroke-width="0.3">f</text>
<defs>
<radialGradient id="body2" gradientUnits="userSpaceOnUse" cx="279" cy="200" r="28">
<stop offset="0" stop-color="#7e7e7e"/>
<stop offset="0.5" stop-color="#6a6a6a"/>
<stop offset="1" stop-color="#505050"/>
</radialGradient>
<radialGradient id="bg2" cx="20%" cy="40%" r="85%">
<stop offset="0" stop-color="#282828"/>
<stop offset="1" stop-color="#161616"/>
</radialGradient>
<radialGradient id="roi" cx="50%" cy="50%" r="50%">
<stop offset="0" stop-color="#ffffff"/>
<stop offset="0.6" stop-color="#f0f0d0"/>
<stop offset="1" stop-color="#c8c890"/>
</radialGradient>
</defs>
<rect x="234.2" y="122.9" width="63.9" height="96.3" fill="#141414"/>
<path d="M241.9,168.4 L245.2,165.1 L248.5,167.3 L249.6,164 C252,162 255,160.5 258,159.5 C263,156.5 268,152 272.2,150.6 C276,149.5 282,148.8 286.5,149.6 C290,150.5 293,152.5 295.7,154.7 C297,155.8 297.8,156.5 298.1,157 L298.1,172.4 L240,172.4 Z" fill="#1c1c1c" filter="url(#tb)"/>
<path d="M279.4,122.9 C278,127 276.8,130 275.3,132.2 C273,136.5 270.5,139.5 268.2,142.4 C266,145.5 264,148.5 262,150.6 C259.5,152.8 257,154.2 254,155.2 C250,157 246,158.5 243,159.6 C240.5,160.6 239,161.8 238.6,162.9 C237.5,164.5 236.5,166 236.6,167.3 C237.5,169 240.5,169 241.9,168.4 L245.2,165.1 L248.5,167.3 L249.6,164 C252,162 255,160.5 258,159.5 C263,156.5 268,152 272.2,150.6 C276,149.5 282,148.8 286.5,149.6 C290,150.5 293,152.5 295.7,154.7 C297,155.8 297.8,156.5 298.2,157" fill="none" stroke="#c8c8c8" stroke-width="0.55"/>
<circle cx="278.5" cy="147.5" r="3.4" fill="#8c9484" stroke="#e4dc30" stroke-width="0.9"/><circle cx="278.4" cy="147.3" r="1.6" fill="#eef0e6"/>
<text class="t" x="279" y="142.2" font-size="4" fill="#e4dc30" stroke="#e4dc30" stroke-width="0.06" text-anchor="middle">ROI</text>
<text class="t" x="236" y="128.4" font-size="4" fill="#dcdcdc">1<tspan font-size="2.6" dy="-1.2">st</tspan><tspan dy="1.2"> boosting (30 min)</tspan></text>
<text class="t" x="284.5" y="128" font-size="3.8" fill="#e09020">Ag</text>
<rect x="290.6" y="124.6" width="5.8" height="3.6" rx="1" fill="none" stroke="#d88a18" stroke-width="0.8"/>
<text class="t" x="265.6" y="162.6" font-size="5.4" fill="#f01c1c" stroke="#f01c1c" stroke-width="0.18" textLength="27" lengthAdjust="spacingAndGlyphs">T/N = 53.3</text>

<rect x="234.2" y="172.4" width="63.9" height="46.8" fill="url(#bg2)"/>
<defs><clipPath id="im2"><rect x="234.2" y="172.4" width="63.9" height="46.8"/></clipPath><filter id="fb" x="-30%" y="-30%" width="160%" height="160%"><feGaussianBlur stdDeviation="1.2"/></filter></defs>
<g clip-path="url(#im2)">
<path d="M247,222 L249.4,219.6 C251,217 252.5,215.5 253.8,214.4 C255.5,213 257,211.5 258.2,210 C260,207 262,203.5 264.1,201.2 C266.5,199.8 268.5,199.3 271.5,199 C274.5,198.6 277.5,198.2 280.3,198.2 C283,198.3 285.5,198.6 287.6,199 C290.5,199.6 293,200.8 295,201.9 C296,202.5 297,203 298,203.6 L300,222 Z" fill="url(#body2)" filter="url(#tb)"/>
<g fill="#3c3c3c" filter="url(#fb)">
<ellipse cx="240" cy="182" rx="1.4" ry="3"/><ellipse cx="241.5" cy="189" rx="1.6" ry="3.5"/><ellipse cx="240.5" cy="196" rx="1.8" ry="3"/><ellipse cx="242" cy="201" rx="1.2" ry="2"/><ellipse cx="245" cy="177" rx="6" ry="3" fill="#262626"/>
</g>
</g>
<path d="M279.3,172.4 C278.5,176 277.8,179 276.5,181 C275,183.5 273.5,185.5 269.7,188.2 C267.5,190 266,192 264,195 C262,197.5 258,201.5 254.2,204.3 C251,206 249,207 246,208.2 C242.5,209.6 240,210.5 238.8,212 C237.6,213.5 237.3,214.8 237.5,215.6 C239,216.8 241,216.8 243,216.5 L247.4,214.3 L251.8,215.5 L256.2,211 C258.5,208.5 260.5,206 262.8,204" fill="none" stroke="#c0c0c0" stroke-width="0.55"/>
<circle cx="279.1" cy="195.3" r="2.9" fill="#7a8298" stroke="#e0d820" stroke-width="0.75"/>
<text class="t" x="279.1" y="191" font-size="3.8" fill="#e8e020" stroke="#e8e020" stroke-width="0.06" text-anchor="middle">ROI</text>
<text class="t" x="236.4" y="177.1" font-size="4" fill="#dcdcdc" textLength="24.2" lengthAdjust="spacingAndGlyphs">808-nm laser</text>
<text class="t" x="284" y="176.2" font-size="3.8" fill="#e09020">Ag</text>
<rect x="290.6" y="172.6" width="5.6" height="3.6" rx="1" fill="none" stroke="#d88a18" stroke-width="0.8"/>
<text class="t" x="267" y="210.4" font-size="5.4" fill="#f01c1c" stroke="#f01c1c" stroke-width="0.18" textLength="23.4" lengthAdjust="spacingAndGlyphs">T/N = 4.5</text>

<!-- ============ Panel g ============ -->
<text transform="translate(300.4,135.4) scale(0.92,1)" font-size="13" fill="#111" stroke="#111" stroke-width="0.35">g</text>
<rect x="309.3" y="124" width="69.1" height="94.6" fill="#fff" stroke="#c8c8c8" stroke-width="0.6"/>
<text class="t" x="376.2" y="130.5" font-size="5" fill="#1a1a1a" stroke="#1a1a1a" stroke-width="0.1" text-anchor="end">NPs</text>
<text class="t" x="376.2" y="150.3" font-size="5" fill="#1a1a1a" stroke="#1a1a1a" stroke-width="0.1" text-anchor="end" textLength="27.6" lengthAdjust="spacingAndGlyphs">PBS + laser</text>
<text class="t" x="376.2" y="168.8" font-size="5" fill="#1a1a1a" stroke="#1a1a1a" stroke-width="0.1" text-anchor="end" textLength="25.8" lengthAdjust="spacingAndGlyphs">NPs + laser</text>
<text class="t" x="376.4" y="188.3" font-size="5" fill="#1a1a1a" stroke="#1a1a1a" stroke-width="0.1" text-anchor="end" textLength="18" lengthAdjust="spacingAndGlyphs">Healthy</text>
<g><rect x="309.6" y="132.1" width="68.6" height="11.8" fill="#e4e4de"/><rect x="310.3" y="132.1" width="10.6" height="11.8" fill="#cbcbc3"/><rect x="321.9" y="132.1" width="10.6" height="11.8" fill="#c4c4bc"/><rect x="333.5" y="132.1" width="10.6" height="11.8" fill="#d4d4cc"/><rect x="345.1" y="132.1" width="10.6" height="11.8" fill="#d2d2ca"/><rect x="356.7" y="132.1" width="10.6" height="11.8" fill="#cfcfc5"/><rect x="368.3" y="132.1" width="9.6" height="11.8" fill="#d0d0c8"/><rect x="309.6" y="152.3" width="68.6" height="10.4" fill="#e4e4de"/><rect x="310.3" y="152.3" width="10.6" height="10.4" fill="#d0d0c8"/><rect x="321.9" y="152.3" width="10.6" height="10.4" fill="#cacac2"/><rect x="333.5" y="152.3" width="10.6" height="10.4" fill="#cfcfc5"/><rect x="345.1" y="152.3" width="10.6" height="10.4" fill="#d4d4cc"/><rect x="356.7" y="152.3" width="10.6" height="10.4" fill="#cdcdc5"/><rect x="368.3" y="152.3" width="9.6" height="10.4" fill="#d4d4cc"/><rect x="309.6" y="171.7" width="68.6" height="10.1" fill="#e4e4de"/><rect x="310.3" y="171.7" width="10.6" height="10.1" fill="#d0d0c6"/><rect x="321.9" y="171.7" width="10.6" height="10.1" fill="#d2d2c8"/><rect x="333.5" y="171.7" width="10.6" height="10.1" fill="#cfcfc5"/><rect x="345.1" y="171.7" width="10.6" height="10.1" fill="#d3d3c9"/><rect x="356.7" y="171.7" width="10.6" height="10.1" fill="#d5d5cb"/><rect x="368.3" y="171.7" width="9.6" height="10.1" fill="#d3d3c9"/><rect x="309.6" y="192.0" width="68.6" height="10.0" fill="#ddddd5"/><rect x="310.3" y="192.0" width="10.6" height="10.0" fill="#c6c6be"/><rect x="321.9" y="192.0" width="10.6" height="10.0" fill="#c8c8c0"/><rect x="333.5" y="192.0" width="10.6" height="10.0" fill="#c9c9c1"/><rect x="345.1" y="192.0" width="10.6" height="10.0" fill="#cbcbc3"/><rect x="356.7" y="192.0" width="10.6" height="10.0" fill="#cdcdc5"/><rect x="368.3" y="192.0" width="9.6" height="10.0" fill="#cbcbc3"/></g><g filter="url(#tb)"><ellipse cx="314.8" cy="138.1" rx="2.1" ry="2.1" fill="#bc9c5c" transform="rotate(0 314.8 138.1)"/><ellipse cx="314.5" cy="137.8" rx="1.2" ry="1.2" fill="#d8c48e"/><ellipse cx="326.4" cy="138.3" rx="2.5" ry="2.4" fill="#bc9c5c" transform="rotate(0 326.4 138.3)"/><ellipse cx="326.1" cy="138.0" rx="1.4" ry="1.3" fill="#d8c48e"/><ellipse cx="338.2" cy="137.6" rx="2.7" ry="2.3" fill="#bc9c5c" transform="rotate(-10 338.2 137.6)"/><ellipse cx="337.9" cy="137.3" rx="1.5" ry="1.3" fill="#d8c48e"/><ellipse cx="350.0" cy="138.3" rx="2.5" ry="2.0" fill="#bc9c5c" transform="rotate(15 350.0 138.3)"/><ellipse cx="349.7" cy="138.0" rx="1.4" ry="1.1" fill="#d8c48e"/><ellipse cx="360.4" cy="138.1" rx="2.0" ry="1.5" fill="#bc9c5c" transform="rotate(0 360.4 138.1)"/><ellipse cx="360.1" cy="137.8" rx="1.1" ry="0.8" fill="#d8c48e"/><ellipse cx="372.9" cy="137.6" rx="3.0" ry="2.0" fill="#bc9c5c" transform="rotate(20 372.9 137.6)"/><ellipse cx="372.6" cy="137.3" rx="1.7" ry="1.1" fill="#d8c48e"/><ellipse cx="314.8" cy="157.5" rx="2.3" ry="2.0" fill="#bc9c5c" transform="rotate(0 314.8 157.5)"/><ellipse cx="314.5" cy="157.2" rx="1.3" ry="1.1" fill="#d8c48e"/><ellipse cx="326.8" cy="157.8" rx="2.7" ry="2.4" fill="#bc9c5c" transform="rotate(0 326.8 157.8)"/><ellipse cx="326.5" cy="157.5" rx="1.5" ry="1.3" fill="#d8c48e"/><ellipse cx="338.2" cy="157.4" rx="2.0" ry="2.0" fill="#bc9c5c" transform="rotate(0 338.2 157.4)"/><ellipse cx="337.9" cy="157.1" rx="1.1" ry="1.1" fill="#d8c48e"/><ellipse cx="350.0" cy="157.8" rx="2.0" ry="1.5" fill="#bc9c5c" transform="rotate(10 350.0 157.8)"/><ellipse cx="349.7" cy="157.5" rx="1.1" ry="0.8" fill="#d8c48e"/><ellipse cx="360.8" cy="157.5" rx="2.8" ry="2.2" fill="#bc9c5c" transform="rotate(15 360.8 157.5)"/><ellipse cx="360.5" cy="157.2" rx="1.5" ry="1.2" fill="#d8c48e"/><ellipse cx="372.9" cy="157.8" rx="2.5" ry="2.2" fill="#bc9c5c" transform="rotate(20 372.9 157.8)"/><ellipse cx="372.6" cy="157.5" rx="1.4" ry="1.2" fill="#d8c48e"/><circle cx="315.4" cy="176.3" r="0.9" fill="#c0a060"/><circle cx="326.5" cy="176.7" r="0.9" fill="#c0a060"/><circle cx="349.9" cy="176.3" r="0.9" fill="#c0a060"/><circle cx="373.5" cy="176.7" r="0.9" fill="#c0a060"/><circle cx="315.2" cy="196.0" r="0.9" fill="#c0a060"/><circle cx="326.8" cy="196.3" r="0.9" fill="#c0a060"/><circle cx="338.5" cy="196.3" r="0.9" fill="#c0a060"/><circle cx="349.9" cy="196.3" r="0.9" fill="#c0a060"/><circle cx="361.5" cy="196.6" r="0.9" fill="#c0a060"/><circle cx="373.5" cy="196.0" r="0.9" fill="#c0a060"/><circle cx="338.5" cy="176.8" r="1.3" fill="#6a2a10"/><circle cx="361.5" cy="176.7" r="2.1" fill="#f0f0ec"/><circle cx="361.5" cy="176.7" r="1.35" fill="#140c08"/></g>
<g font-size="5" fill="#1a1a1a" stroke="#1a1a1a" stroke-width="0.1" text-anchor="middle">
<text class="t" x="311.4" y="210.5">0</text>
<text class="t" x="323.2" y="210.5">1</text>
<text class="t" x="335.6" y="210.5">2</text>
<text class="t" x="348" y="210.5">3</text>
<text class="t" x="360.2" y="210.5">4</text>
<text class="t" x="374.8" y="210.5" textLength="10.5" lengthAdjust="spacingAndGlyphs">5 cm</text>
</g>
<path d="M310.6,216.9 v-3.0 M311.6,216.9 v-1.4 M312.6,216.9 v-1.4 M313.6,216.9 v-1.4 M314.6,216.9 v-1.4 M315.6,216.9 v-1.4 M316.6,216.9 v-2.2 M317.6,216.9 v-1.4 M318.6,216.9 v-1.4 M319.6,216.9 v-1.4 M320.6,216.9 v-1.4 M321.6,216.9 v-1.4 M322.6,216.9 v-3.0 M323.6,216.9 v-1.4 M324.6,216.9 v-1.4 M325.6,216.9 v-1.4 M326.6,216.9 v-1.4 M327.6,216.9 v-1.4 M328.6,216.9 v-2.2 M329.6,216.9 v-1.4 M330.6,216.9 v-1.4 M331.6,216.9 v-1.4 M332.6,216.9 v-1.4 M333.6,216.9 v-1.4 M334.6,216.9 v-3.0 M335.6,216.9 v-1.4 M336.6,216.9 v-1.4 M337.6,216.9 v-1.4 M338.6,216.9 v-1.4 M339.6,216.9 v-1.4 M340.6,216.9 v-2.2 M341.6,216.9 v-1.4 M342.6,216.9 v-1.4 M343.6,216.9 v-1.4 M344.6,216.9 v-1.4 M345.6,216.9 v-1.4 M346.6,216.9 v-3.0 M347.6,216.9 v-1.4 M348.6,216.9 v-1.4 M349.6,216.9 v-1.4 M350.6,216.9 v-1.4 M351.6,216.9 v-1.4 M352.6,216.9 v-2.2 M353.6,216.9 v-1.4 M354.6,216.9 v-1.4 M355.6,216.9 v-1.4 M356.6,216.9 v-1.4 M357.6,216.9 v-1.4 M358.6,216.9 v-3.0 M359.6,216.9 v-1.4 M360.6,216.9 v-1.4 M361.6,216.9 v-1.4 M362.6,216.9 v-1.4 M363.6,216.9 v-1.4 M364.6,216.9 v-2.2 M365.6,216.9 v-1.4 M366.6,216.9 v-1.4 M367.6,216.9 v-1.4 M368.6,216.9 v-1.4 M369.6,216.9 v-1.4 M370.6,216.9 v-3.0 M371.6,216.9 v-1.4 M372.6,216.9 v-1.4 M373.6,216.9 v-1.4 M374.6,216.9 v-1.4 M375.6,216.9 v-1.4 M376.6,216.9 v-2.2 M377.6,216.9 v-1.4 " stroke="#707070" stroke-width="0.4"/>
<path d="M310,216.9 H378" stroke="#888" stroke-width="0.5"/>
</svg>
</body></html>
